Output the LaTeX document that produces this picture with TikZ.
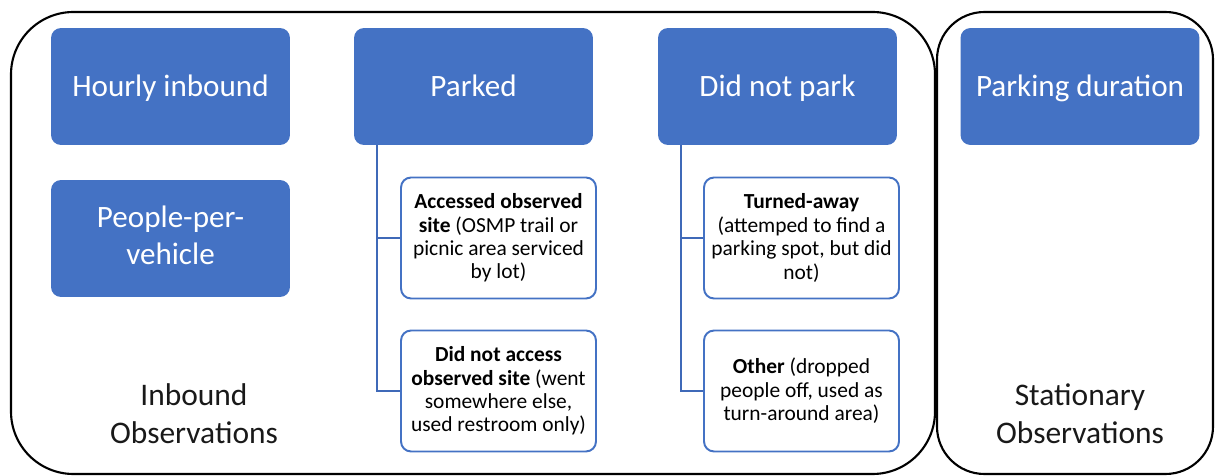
\documentclass[tikz,border=0pt]{standalone}
\usepackage{fontspec}
\setmainfont{Carlito}
\usepackage{xcolor}
\usepackage{tikz}
\usetikzlibrary{calc}

\definecolor{officeblue}{HTML}{4472C4}
\definecolor{linkblue}{HTML}{3F69B8}

% even strut so every label sits on the same baseline
\newcommand{\catstrut}{\rule[-4.2pt]{0pt}{20.2pt}}

\tikzset{
  group/.style={draw=black, line width=1.2pt},
  category/.style={fill=officeblue, text=white, rounded corners=0.2cm,
    minimum width=4.78cm, minimum height=2.34cm, inner sep=0pt, align=center,
    execute at begin node=\catstrut, execute at end node=\catstrut,
    font=\fontsize{17.7}{21}\selectfont},
  outcome/.style={draw=officeblue, fill=white, line width=1.1pt, rounded corners=0.2cm,
    minimum width=3.9cm, minimum height=2.42cm, inner sep=0pt, align=center,
    font=\fontsize{12.2}{13.3}\selectfont},
  link/.style={draw=linkblue, line width=1.1pt},
  caption/.style={align=center, text=black!90, font=\fontsize{17.9}{21.5}\selectfont}
}

\begin{document}
\begin{tikzpicture}[x=0.02cm, y=-0.02cm]

\useasboundingbox (0,0) rectangle (1215,476);

% inbound and stationary groups
\draw[group, rounded corners=1.25cm] (11,12) rectangle (935,474);
\draw[group, rounded corners=0.95cm] (937,12) rectangle (1213,474);

\node[category] (hourly) at (170.5,86.5) {Hourly inbound};
\node[category] (ppv) at (170.5,238.5) {People-per-\\vehicle};
\node[category] (parked) at (473.5,86.5) {Parked};
\node[category] (noparked) at (777.5,86.5) {Did not park};
\node[category] (duration) at (1080,86.5) {Parking duration};

\node[outcome] (acc) at (498.5,238) {\textbf{Accessed observed}\\\textbf{site} (OSMP trail or\\picnic area serviced\\by lot)};
\node[outcome] (noacc) at (498.5,391) {\textbf{Did not access}\\\textbf{observed site} (went\\somewhere else,\\used restroom only)};
\node[outcome] (turned) at (801.5,238) {\textbf{Turned-away}\\(attemped to find a\\parking spot, but did\\not)};
\node[outcome] (other) at (801.5,391) {\textbf{Other} (dropped\\people off, used as\\turn-around area)};

\draw[link] ([xshift=0.46cm]parked.south west) |- (noacc.west);
\draw[link] ([xshift=0.46cm]parked.south west) |- (acc.west);
\draw[link] ([xshift=0.46cm]noparked.south west) |- (other.west);
\draw[link] ([xshift=0.46cm]noparked.south west) |- (turned.west);

\node[caption] (inlabel) at (194,414) {Inbound\\Observations};
\node[caption] (statlabel) at (1080,414) {Stationary\\Observations};

\end{tikzpicture}
\end{document}
